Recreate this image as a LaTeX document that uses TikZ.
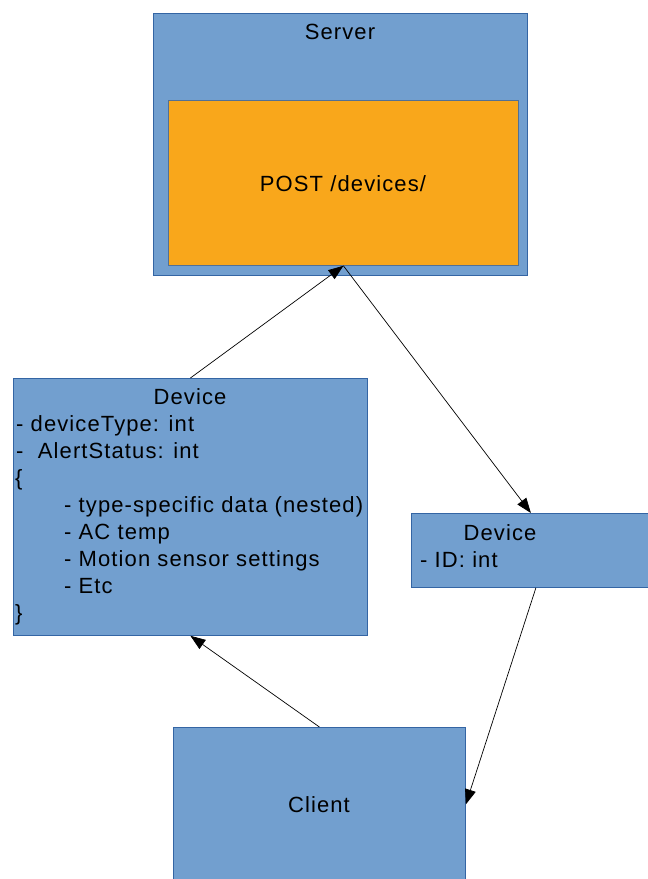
\documentclass[tikz,border=0pt]{standalone}
\usepackage{fontspec}
\setmainfont[LetterSpace=5]{Liberation Sans}
\usetikzlibrary{positioning}
\usetikzlibrary{calc}
\usetikzlibrary{arrows.meta}
\definecolor{boxblue}{HTML}{729FCF}
\definecolor{boxedge}{HTML}{3465A4}
\definecolor{postorange}{HTML}{F9A71B}

\begin{document}
\begin{tikzpicture}[x=1pt, y=-1pt, font=\fontsize{22}{27}\selectfont,
    block/.style={draw=boxedge, fill=boxblue, line width=0.8pt, inner sep=0pt, anchor=north west},
    line/.style={anchor=base west, inner sep=0pt},
    title/.style={anchor=base, inner sep=0pt},
    flow/.style={-{Triangle[length=15pt,width=11pt]}, line width=0.7pt}]

    \useasboundingbox (0,0) rectangle (648,879);

    % boxes
    \node[block, minimum width=374pt, minimum height=262pt] (server) at (153,13) {};
    \node[block, fill=postorange, draw=boxedge!60!gray, minimum width=350pt, minimum height=165pt] (post) at (168,100) {};
    \node[block, minimum width=354pt, minimum height=257pt] (devL) at (13,378) {};
    \node[block, minimum width=239pt, minimum height=74pt] (devR) at (411,513) {};
    \node[block, minimum width=292pt, minimum height=154pt] (client) at (173,727) {};

    % texts
    \node[title] (serverlbl) at (340,39) {Server};
    \node[title] (postlbl) at (343,191) {POST /devices/};

    \node[title] (devLlbl) at (190,404) {Device};
    \node[line] (devL1) at (16,431) {- deviceType: int};
    \node[line] (devL2) at (16,458) {-\ \ AlertStatus: int};
    \node[line] (devL3) at (15,485) {\{};
    \node[line] (devL4) at (64,512) {- type-specific data (nested)};
    \node[line] (devL5) at (64,539) {- AC temp};
    \node[line] (devL6) at (64,566) {- Motion sensor settings};
    \node[line] (devL7) at (64,593) {- Etc};
    \node[line] (devL8) at (15,620) {\}};

    \node[title] (devRlbl) at (500,540) {Device};
    \node[line] (devR1) at (420,567) {- ID: int};

    \node[title] (clientlbl) at (319,812) {Client};

    % connectors
    \draw[flow] (devL.north) -- (post.south);
    \draw[flow] (post.south) -- (devR.north);
    \draw[flow] ([xshift=5pt]devR.south) -- (client.east);
    \draw[flow] (client.north) -- (devL.south);
\end{tikzpicture}
\end{document}
